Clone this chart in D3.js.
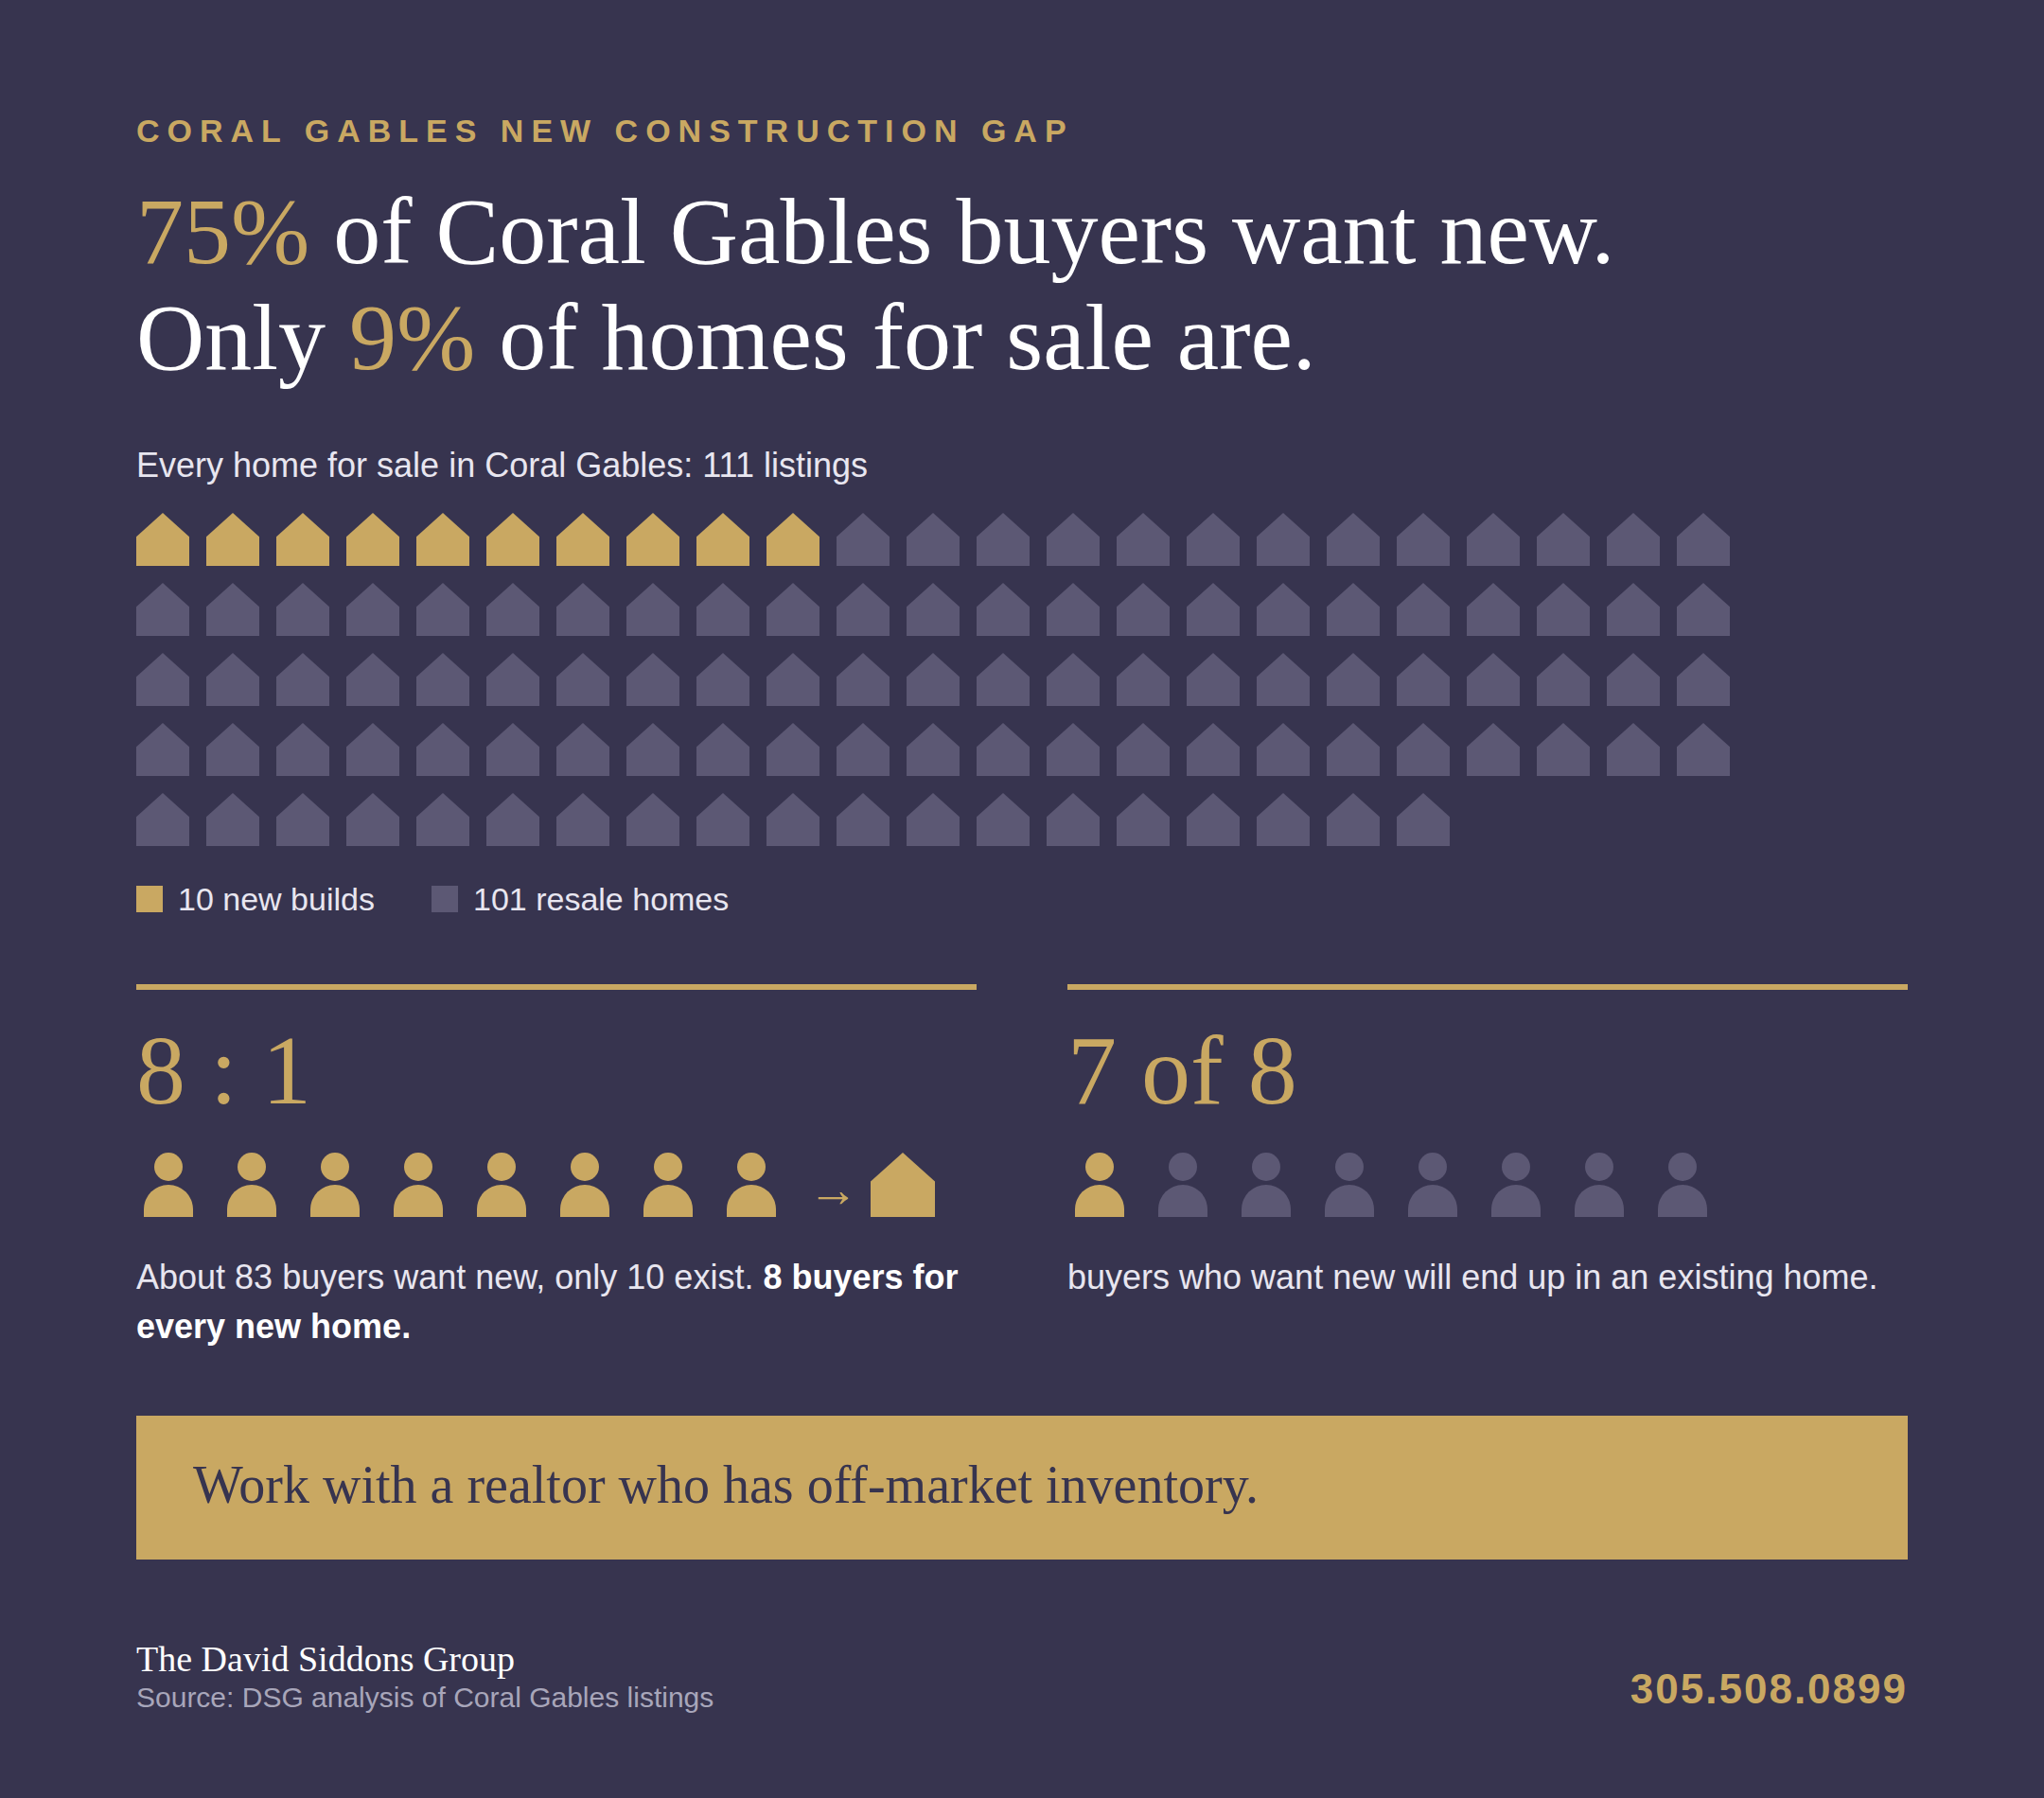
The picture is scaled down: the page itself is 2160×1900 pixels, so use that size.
<!DOCTYPE html>
<html>
<head>
<meta charset="utf-8">
<script src="https://cdn.jsdelivr.net/npm/d3@7"></script>
<style>
html, body { margin: 0; padding: 0; background: #37344f; }
svg { display: block; }
.serif { font-family: "Liberation Serif", serif; }
.sans { font-family: "Liberation Sans", sans-serif; }
</style>
</head>
<body>
<div id="chart"></div>
<script>
// listing counts
var listingGroups = ["10 new builds", "101 resale homes"];
var listingCounts = [10, 101];
var wafflePerRow = 23;

// buyer icons: how many of 8 are gold in each panel
var ratioBuyers = [8, 0];
var outcomeBuyers = [1, 7];

var headlineOne = [["75%", true], [" of Coral Gables buyers want new.", false]];
var headlineTwo = [["Only ", false], ["9%", true], [" of homes for sale are.", false]];

var bg = "#37344f", gold = "#c9a862", dim = "#5c5874", pale = "#e8e6f0", white = "#ffffff";

var width = 2160, height = 1900, left = 144, right = 2016;

var svg = d3.select("#chart").append("svg")
    .attr("width", width)
    .attr("height", height);

svg.append("rect")
    .attr("width", width)
    .attr("height", height)
    .attr("fill", bg);

function label(x, y, size, fill, cls, content) {
    return svg.append("text")
        .attr("class", cls)
        .attr("x", x)
        .attr("y", y)
        .attr("font-size", size)
        .attr("fill", fill)
        .text(content);
}

// house outline, unit square, shoulder at 45%
var housePath = d3.line()
    .x(function(d){ return d[0]; })
    .y(function(d){ return d[1]; });
var houseUnit = [[0.5, 0], [1, 0.45], [1, 1], [0, 1], [0, 0.45]];

function drawHouse(g, x, y, size, fill) {
    g.append("path")
        .attr("d", housePath(houseUnit.map(function(p){ return [x + p[0] * size, y + p[1] * size]; })) + "Z")
        .attr("fill", fill);
}

// person: round head, dome shoulders
function drawPerson(g, x, y, fill) {
    g.append("circle")
        .attr("cx", x + 34)
        .attr("cy", y + 15)
        .attr("r", 15)
        .attr("fill", fill);
    g.append("path")
        .attr("d", "M" + (x + 8) + "," + (y + 68) + "V" + (y + 60) + "A26,26 0 0 1 " + (x + 60) + "," + (y + 60) + "V" + (y + 68) + "Z")
        .attr("fill", fill);
}

// eyebrow
label(left, 150, 34, gold, "sans", "CORAL GABLES NEW CONSTRUCTION GAP")
    .attr("font-weight", 700)
    .attr("letter-spacing", 8);

// headline
[headlineOne, headlineTwo].forEach(function(parts, i){
    var t = label(left, 278 + i * 112, 100, white, "serif", null).style("white-space", "pre");
    t.selectAll("tspan")
        .data(parts)
        .enter()
        .append("tspan")
        .attr("fill", function(d){ return d[1] ? gold : white; })
        .text(function(d){ return d[0]; });
});

label(left, 504, 36, pale, "sans", "Every home for sale in Coral Gables: 111 listings");

// waffle
var homes = [];
listingCounts.forEach(function(c, g){
    d3.range(c).forEach(function(){ homes.push(g); });
});

var houseX = d3.scaleLinear().domain([0, wafflePerRow - 1]).range([left, left + (wafflePerRow - 1) * 74]);
var houseY = d3.scaleLinear().domain([0, 4]).range([542, 542 + 4 * 74]);
var houseColor = d3.scaleOrdinal().domain([0, 1]).range([gold, dim]);

var waffle = svg.append("g");
waffle.selectAll("path")
    .data(homes)
    .enter()
    .append("path")
    .attr("d", function(d, i){
        var x = houseX(i % wafflePerRow), y = houseY(Math.floor(i / wafflePerRow));
        return housePath(houseUnit.map(function(p){ return [x + p[0] * 56, y + p[1] * 56]; })) + "Z";
    })
    .attr("fill", function(d){ return houseColor(d); });

// legend
var legendX = [left, 456];
listingGroups.forEach(function(name, i){
    svg.append("rect")
        .attr("x", legendX[i])
        .attr("y", 936)
        .attr("width", 28)
        .attr("height", 28)
        .attr("fill", houseColor(i));
    label(legendX[i] + 44, 962, 34, pale, "sans", name);
});

// two panels
var panelX = [left, 1128], panelW = 888;
panelX.forEach(function(x){
    svg.append("rect")
        .attr("x", x)
        .attr("y", 1040)
        .attr("width", panelW)
        .attr("height", 6)
        .attr("fill", gold);
});

label(panelX[0], 1166, 104, gold, "serif", "8 : 1");
label(panelX[1], 1166, 104, gold, "serif", "7 of 8");

var personX = d3.scaleLinear().domain([0, 7]).range([0, 7 * 88]);
var people = svg.append("g");
[ratioBuyers, outcomeBuyers].forEach(function(counts, p){
    var total = d3.sum(counts);
    d3.range(total).forEach(function(i){
        drawPerson(people, panelX[p] + personX(i), 1218, i < counts[0] ? gold : dim);
    });
});

label(854, 1275, 53, gold, "serif", "→");
drawHouse(svg.append("g"), 920, 1218, 68, gold);

var noteOne = label(panelX[0], 1362, 36, pale, "sans", "About 83 buyers want new, only 10 exist. ");
noteOne.append("tspan")
    .attr("fill", white)
    .attr("font-weight", 700)
    .text("8 buyers for");
label(panelX[0], 1414, 36, white, "sans", "every new home.")
    .attr("font-weight", 700);
label(panelX[1], 1362, 36, pale, "sans", "buyers who want new will end up in an existing home.");

// call to action
svg.append("rect")
    .attr("x", left)
    .attr("y", 1496)
    .attr("width", right - left)
    .attr("height", 152)
    .attr("fill", gold);
label(204, 1588, 56, bg, "serif", "Work with a realtor who has off-market inventory.");

// footer
label(left, 1766, 38, white, "serif", "The David Siddons Group");
label(left, 1804, 30, "#a8a6ba", "sans", "Source: DSG analysis of Coral Gables listings");
label(right, 1800, 44, gold, "sans", "305.508.0899")
    .attr("text-anchor", "end")
    .attr("font-weight", 700)
    .attr("letter-spacing", 2);
</script>
</body>
</html>
